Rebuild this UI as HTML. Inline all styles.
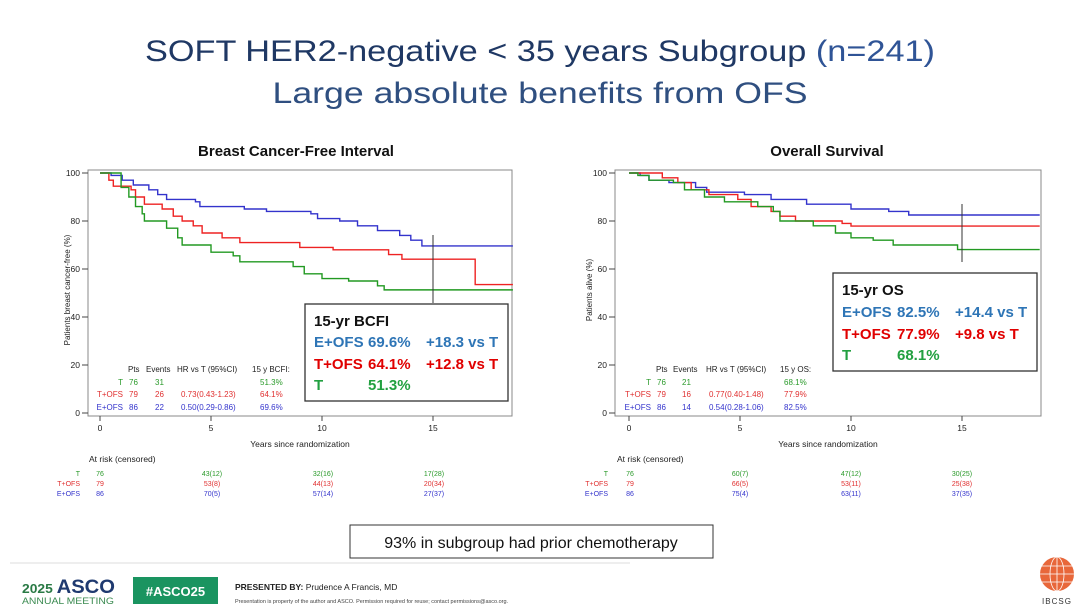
<!DOCTYPE html>
<html><head><meta charset="utf-8"><style>html,body{margin:0;padding:0;background:#fff}svg{display:block}text{font-family:"Liberation Sans",sans-serif}</style></head><body>
<svg width="1080" height="608" viewBox="0 0 1080 608" xmlns="http://www.w3.org/2000/svg">
<rect width="1080" height="608" fill="#fff"/>
<text x="540" y="61" text-anchor="middle" font-size="30" fill="#1f3864" textLength="790" lengthAdjust="spacingAndGlyphs">SOFT HER2-negative &lt; 35 years Subgroup <tspan fill="#2f5496">(n=241)</tspan></text>
<text x="540" y="103" text-anchor="middle" font-size="30" fill="#2f4f80" textLength="535" lengthAdjust="spacingAndGlyphs">Large absolute benefits from OFS</text>
<text x="296" y="156" text-anchor="middle" font-size="15" font-weight="bold" fill="#111">Breast Cancer-Free Interval</text>
<text x="827" y="156" text-anchor="middle" font-size="15" font-weight="bold" fill="#111">Overall Survival</text>

<!-- LEFT CHART -->
<g font-size="8.5" fill="#222">
<rect x="88" y="170" width="424" height="246" fill="none" stroke="#888" stroke-width="1"/>
<g stroke="#444" stroke-width="1">
<line x1="82" y1="173" x2="88" y2="173"/><line x1="82" y1="221" x2="88" y2="221"/><line x1="82" y1="269" x2="88" y2="269"/><line x1="82" y1="317" x2="88" y2="317"/><line x1="82" y1="365" x2="88" y2="365"/><line x1="82" y1="413" x2="88" y2="413"/>
<line x1="100" y1="416" x2="100" y2="421"/><line x1="211" y1="416" x2="211" y2="421"/><line x1="322" y1="416" x2="322" y2="421"/><line x1="433" y1="416" x2="433" y2="421"/>
</g>
<g text-anchor="end"><text x="80" y="176">100</text><text x="80" y="224">80</text><text x="80" y="272">60</text><text x="80" y="320">40</text><text x="80" y="368">20</text><text x="80" y="416">0</text></g>
<g text-anchor="middle"><text x="100" y="431">0</text><text x="211" y="431">5</text><text x="322" y="431">10</text><text x="433" y="431">15</text>
<text x="300" y="447">Years since randomization</text></g>
<text transform="translate(70,290) rotate(-90)" text-anchor="middle" font-size="8">Patients breast cancer-free (%)</text>
<g transform="translate(100,413) scale(22.2,-2.4)" fill="none" stroke-width="1.4">
<path vector-effect="non-scaling-stroke" stroke="#3333cc" d="M0,100 H0.5 V99 H1 V97 H1.5 V95 H2.2 V93 H2.6 V91 H3 V89 H4.3 V88 H4.5 V86 H6.5 V85 H7.5 V84 H9.5 V83 H9.8 V81 H10.8 V80 H11.6 V78 H12.5 V76 H13.5 V74 H14 V72 H14.5 V69.6 H18.6"/>
<path vector-effect="non-scaling-stroke" stroke="#ee2222" d="M0,100 H0.4 V97 H0.6 V94.5 H1.4 V93 H1.6 V90 H2 V87 H2.8 V85 H3.3 V82 H3.7 V80 H4.2 V78 H4.6 V75 H5.5 V73 H6.3 V71 H9 V69 H10.5 V68 H13 V66 H13.6 V64.1 H16.9 V53.5 H18.6"/>
<path vector-effect="non-scaling-stroke" stroke="#229922" d="M0,100 H0.95 V94 H1.3 V90 H1.6 V86 H1.9 V83 H2 V80 H3 V77 H3.5 V73 H3.7 V70 H5 V67 H6 V65.5 H6.3 V63 H8.7 V61 H9.2 V58 H10 V56 H11.2 V55 H12.5 V53 H12.8 V51.3 H18.6"/>
</g>
<line x1="433" y1="235" x2="433" y2="303" stroke="#333" stroke-width="1"/>
<g font-size="8"><text x="128" y="372">Pts</text><text x="146" y="372">Events</text><text x="177" y="372">HR vs T (95%CI)</text><text x="252" y="372">15 y BCFI:</text>
<g fill="#2a9a2a"><text x="123" y="385" text-anchor="end">T</text><text x="129" y="385">76</text><text x="155" y="385">31</text><text x="260" y="385">51.3%</text></g>
<g fill="#e03030"><text x="123" y="397" text-anchor="end">T+OFS</text><text x="129" y="397">79</text><text x="155" y="397">26</text><text x="181" y="397">0.73(0.43-1.23)</text><text x="260" y="397">64.1%</text></g>
<g fill="#3333cc"><text x="123" y="410" text-anchor="end">E+OFS</text><text x="129" y="410">86</text><text x="155" y="410">22</text><text x="181" y="410">0.50(0.29-0.86)</text><text x="260" y="410">69.6%</text></g></g>
<rect x="305" y="304" width="203" height="97" fill="#fff" stroke="#333" stroke-width="1.3"/>
<g font-size="15" font-weight="bold"><text x="314" y="326" fill="#111">15-yr BCFI</text>
<g fill="#2e75b6"><text x="314" y="347">E+OFS</text><text x="368" y="347">69.6%</text><text x="426" y="347">+18.3 vs T</text></g>
<g fill="#e00000"><text x="314" y="369">T+OFS</text><text x="368" y="369">64.1%</text><text x="426" y="369">+12.8 vs T</text></g>
<g fill="#22a040"><text x="314" y="390">T</text><text x="368" y="390">51.3%</text></g></g>
<text x="89" y="462" font-size="8.5">At risk (censored)</text>
<g font-size="7"><g text-anchor="end"><text x="80" y="476" fill="#2a9a2a">T</text><text x="80" y="486" fill="#e03030">T+OFS</text><text x="80" y="496" fill="#3333cc">E+OFS</text></g>
<g text-anchor="middle"><g fill="#2a9a2a"><text x="100" y="476">76</text><text x="212" y="476">43(12)</text><text x="323" y="476">32(16)</text><text x="434" y="476">17(28)</text></g>
<g fill="#e03030"><text x="100" y="486">79</text><text x="212" y="486">53(8)</text><text x="323" y="486">44(13)</text><text x="434" y="486">20(34)</text></g>
<g fill="#3333cc"><text x="100" y="496">86</text><text x="212" y="496">70(5)</text><text x="323" y="496">57(14)</text><text x="434" y="496">27(37)</text></g></g></g>
</g>

<!-- RIGHT CHART -->
<g font-size="8.5" fill="#222">
<rect x="615" y="170" width="426" height="246" fill="none" stroke="#888" stroke-width="1"/>
<g stroke="#444" stroke-width="1">
<line x1="609" y1="173" x2="615" y2="173"/><line x1="609" y1="221" x2="615" y2="221"/><line x1="609" y1="269" x2="615" y2="269"/><line x1="609" y1="317" x2="615" y2="317"/><line x1="609" y1="365" x2="615" y2="365"/><line x1="609" y1="413" x2="615" y2="413"/>
<line x1="629" y1="416" x2="629" y2="421"/><line x1="740" y1="416" x2="740" y2="421"/><line x1="851" y1="416" x2="851" y2="421"/><line x1="962" y1="416" x2="962" y2="421"/>
</g>
<g text-anchor="end"><text x="607" y="176">100</text><text x="607" y="224">80</text><text x="607" y="272">60</text><text x="607" y="320">40</text><text x="607" y="368">20</text><text x="607" y="416">0</text></g>
<g text-anchor="middle"><text x="629" y="431">0</text><text x="740" y="431">5</text><text x="851" y="431">10</text><text x="962" y="431">15</text>
<text x="828" y="447">Years since randomization</text></g>
<text transform="translate(592,290) rotate(-90)" text-anchor="middle" font-size="8">Patients alive (%)</text>
<g transform="translate(629,413) scale(22.2,-2.4)" fill="none" stroke-width="1.4">
<path vector-effect="non-scaling-stroke" stroke="#3333cc" d="M0,100 H0.5 V99 H0.9 V97 H1.8 V96 H3 V94 H3.5 V92 H5.2 V91 H6.4 V89 H8 V87 H10 V85 H11.7 V84 H12.6 V82.5 H18.5"/>
<path vector-effect="non-scaling-stroke" stroke="#ee2222" d="M0,100 H1.5 V98 H2.2 V96 H2.8 V93 H3.6 V91 H4.9 V89 H5.5 V86 H6.4 V84 H6.8 V82 H7.5 V80 H9.6 V79 H10 V77.9 H18.5"/>
<path vector-effect="non-scaling-stroke" stroke="#229922" d="M0,100 H0.4 V99 H0.9 V97 H2 V96 H2.5 V93 H3.4 V90 H4.3 V88 H5.8 V86 H6.5 V84 H6.8 V80 H8.3 V78 H9.3 V75 H10 V73 H11 V72 H11.9 V70 H14.8 V68.1 H18.5"/>
</g>
<line x1="962" y1="204" x2="962" y2="262" stroke="#333" stroke-width="1"/>
<g font-size="8"><text x="656" y="372">Pts</text><text x="673" y="372">Events</text><text x="706" y="372">HR vs T (95%CI)</text><text x="780" y="372">15 y OS:</text>
<g fill="#2a9a2a"><text x="651" y="385" text-anchor="end">T</text><text x="657" y="385">76</text><text x="682" y="385">21</text><text x="784" y="385">68.1%</text></g>
<g fill="#e03030"><text x="651" y="397" text-anchor="end">T+OFS</text><text x="657" y="397">79</text><text x="682" y="397">16</text><text x="709" y="397">0.77(0.40-1.48)</text><text x="784" y="397">77.9%</text></g>
<g fill="#3333cc"><text x="651" y="410" text-anchor="end">E+OFS</text><text x="657" y="410">86</text><text x="682" y="410">14</text><text x="709" y="410">0.54(0.28-1.06)</text><text x="784" y="410">82.5%</text></g></g>
<rect x="833" y="273" width="204" height="98" fill="#fff" stroke="#333" stroke-width="1.3"/>
<g font-size="15" font-weight="bold"><text x="842" y="295" fill="#111">15-yr OS</text>
<g fill="#2e75b6"><text x="842" y="317">E+OFS</text><text x="897" y="317">82.5%</text><text x="955" y="317">+14.4 vs T</text></g>
<g fill="#e00000"><text x="842" y="339">T+OFS</text><text x="897" y="339">77.9%</text><text x="955" y="339">+9.8 vs T</text></g>
<g fill="#22a040"><text x="842" y="360">T</text><text x="897" y="360">68.1%</text></g></g>
<text x="617" y="462" font-size="8.5">At risk (censored)</text>
<g font-size="7"><g text-anchor="end"><text x="608" y="476" fill="#2a9a2a">T</text><text x="608" y="486" fill="#e03030">T+OFS</text><text x="608" y="496" fill="#3333cc">E+OFS</text></g>
<g text-anchor="middle"><g fill="#2a9a2a"><text x="630" y="476">76</text><text x="740" y="476">60(7)</text><text x="851" y="476">47(12)</text><text x="962" y="476">30(25)</text></g>
<g fill="#e03030"><text x="630" y="486">79</text><text x="740" y="486">66(5)</text><text x="851" y="486">53(11)</text><text x="962" y="486">25(38)</text></g>
<g fill="#3333cc"><text x="630" y="496">86</text><text x="740" y="496">75(4)</text><text x="851" y="496">63(11)</text><text x="962" y="496">37(35)</text></g></g></g>
</g>

<rect x="350" y="525" width="363" height="33" fill="#fff" stroke="#333" stroke-width="1"/>
<text x="531" y="548" text-anchor="middle" font-size="16" fill="#111">93% in subgroup had prior chemotherapy</text>

<line x1="10" y1="563" x2="630" y2="563" stroke="#ddd" stroke-width="1"/>
<text x="22" y="593" font-size="19" font-weight="bold" fill="#1f3a70" textLength="93" lengthAdjust="spacingAndGlyphs"><tspan font-size="13" fill="#2a7a45">2025 </tspan>ASCO</text>
<text x="22" y="604" font-size="9" fill="#3a8a50" textLength="92" lengthAdjust="spacingAndGlyphs">ANNUAL MEETING</text>
<rect x="133" y="577" width="85" height="27" fill="#1a9460"/>
<text x="175.5" y="596" text-anchor="middle" font-size="13" font-weight="bold" fill="#fff">#ASCO25</text>
<text x="235" y="590" font-size="8.5" fill="#222"><tspan font-weight="bold">PRESENTED BY:</tspan> Prudence A Francis, MD</text>
<text x="235" y="603" font-size="5.5" fill="#444">Presentation is property of the author and ASCO. Permission required for reuse; contact permissions@asco.org.</text>
<circle cx="1057" cy="574" r="17" fill="#e8673a"/>
<g stroke="#fff" stroke-width="0.8" fill="none"><ellipse cx="1057" cy="574" rx="7" ry="17"/><line x1="1040" y1="574" x2="1074" y2="574"/><line x1="1042" y1="566" x2="1072" y2="566"/><line x1="1042" y1="582" x2="1072" y2="582"/><line x1="1057" y1="557" x2="1057" y2="591"/></g>
<text x="1057" y="604" text-anchor="middle" font-size="8" fill="#333" letter-spacing="1">IBCSG</text>
</svg>
</body></html>
